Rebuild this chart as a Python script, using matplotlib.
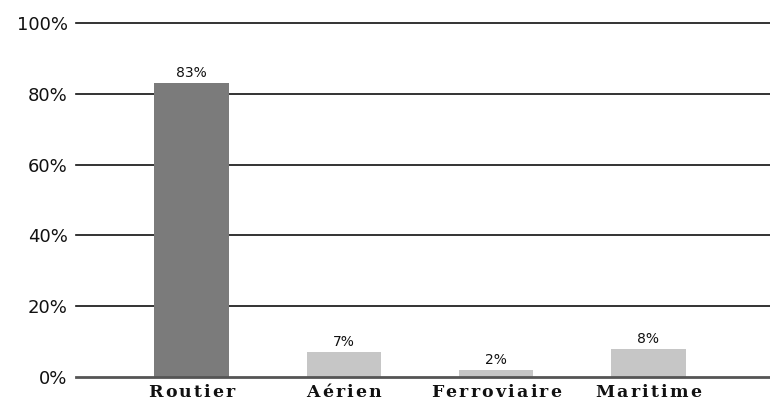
import matplotlib
matplotlib.use("Agg")
import matplotlib.pyplot as plt
import matplotlib.transforms as mtransforms

categories = ["Routier", "Aérien", "Ferroviaire", "Maritime"]
shares = [83, 7, 2, 8]
yticks = [0, 20, 40, 60, 80, 100]
ytick_labels = ["0%", "20%", "40%", "60%", "80%", "100%"]
bar_colors = ["#7b7b7b", "#c6c6c6", "#c6c6c6", "#c6c6c6"]

fig = plt.figure(figsize=(7.70, 4.03), dpi=100)
ax = fig.add_axes([0.0987, 0.0645, 0.9013, 0.8785])

x = list(range(len(categories)))
ax.bar(x, shares, width=0.49, color=bar_colors, zorder=3)

ax.set_xlim(-0.76, 3.8)
ax.set_ylim(0, 100)

for v in yticks[1:]:
    ax.axhline(v, color="#111111", lw=1.2, zorder=1, clip_on=False)
ax.axhline(0, color="#555555", lw=2.0, zorder=4, clip_on=False)

for s in ax.spines.values():
    s.set_visible(False)

ax.set_yticks(yticks)
ax.set_yticklabels(ytick_labels, fontsize=13, color="#111111")
ax.tick_params(axis="y", length=0, pad=6)

ax.set_xticks(x)
ax.set_xticklabels([])
ax.tick_params(axis="x", length=0)

# letter-spaced category labels under each bar
renderer = fig.canvas.get_renderer()
label_font = dict(family="DejaVu Serif", fontweight="bold", fontsize=12.5, color="#111111")
spacing = 2.2
base = mtransforms.blended_transform_factory(ax.transData, ax.transAxes)
for xi, name in zip(x, categories):
    widths = []
    for ch in name:
        t = fig.text(0, 0, ch, **label_font)
        widths.append(t.get_window_extent(renderer).width)
        t.remove()
    total = sum(widths) + spacing * (len(name) - 1)
    cursor = -total / 2
    for ch, w in zip(name, widths):
        tr = mtransforms.offset_copy(base, fig=fig, x=cursor, y=-7, units="dots")
        ax.text(xi, 0, ch, transform=tr, ha="left", va="top", clip_on=False, **label_font)
        cursor += w + spacing

for xi, v in zip(x, shares):
    ax.annotate(f"{v}%", (xi, v), xytext=(0, 2), textcoords="offset points",
                ha="center", va="bottom", fontsize=10, color="#111111", zorder=5)

fig.savefig("out.png", dpi=100)
